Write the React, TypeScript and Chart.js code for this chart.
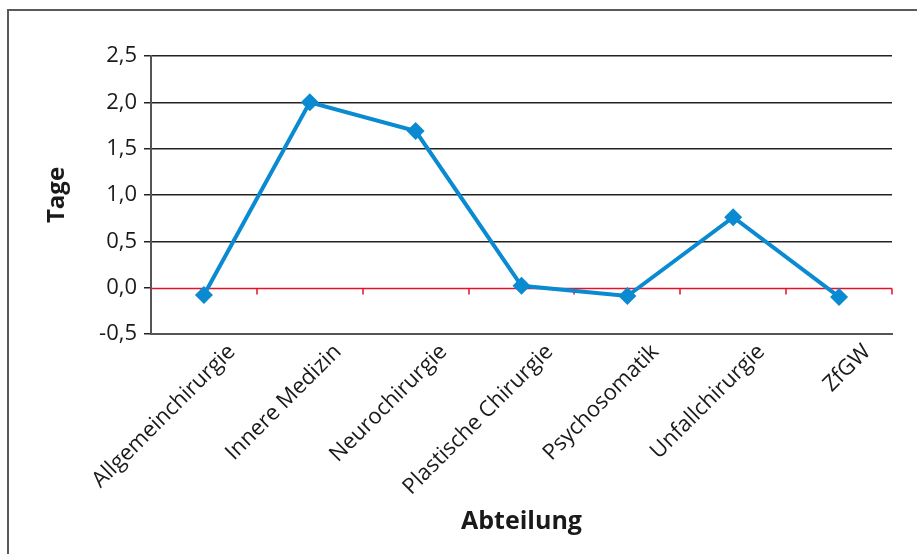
import React, { useEffect, useRef } from "react";
import { Chart, registerables } from "chart.js";

Chart.register(...registerables);

const categories = [
  "Allgemeinchirurgie",
  "Innere Medizin",
  "Neurochirurgie",
  "Plastische Chirurgie",
  "Psychosomatik",
  "Unfallchirurgie",
  "ZfGW",
];
const tageValues = [-0.08, 2.0, 1.69, 0.02, -0.09, 0.76, -0.1];
const yMin = -0.5;
const yMax = 2.5;
const yStep = 0.5;

const FONT = "'Open Sans', 'Noto Sans', sans-serif";

const zeroLinePlugin = {
  id: "zeroLine",
  beforeDatasetsDraw(chart: any) {
    const { ctx, chartArea, scales } = chart;
    const y = Math.round(scales.y.getPixelForValue(0)) + 0.5;
    const xs = scales.x;
    ctx.save();
    ctx.strokeStyle = "#e4112b";
    ctx.lineWidth = 1.5;
    ctx.beginPath();
    ctx.moveTo(chartArea.left, y);
    ctx.lineTo(chartArea.right, y);
    const n = categories.length;
    const w = (chartArea.right - chartArea.left) / n;
    for (let i = 1; i <= n; i++) {
      const x = Math.round(xs.getPixelForValue(i - 1) + w / 2);
      ctx.moveTo(x, y);
      ctx.lineTo(x, y + 6);
    }
    ctx.stroke();
    ctx.restore();
  },
};

export default function App() {
  const ref = useRef<HTMLCanvasElement | null>(null);
  useEffect(() => {
    if (!ref.current) return;
    const chart = new Chart(ref.current, {
      type: "line",
      data: {
        labels: categories,
        datasets: [
          {
            label: "Tage",
            data: tageValues,
            borderColor: "#0a8ad0",
            backgroundColor: "#0a8ad0",
            borderWidth: 4,
            pointStyle: "rectRot",
            pointRadius: 9,
            pointHoverRadius: 9,
            pointBorderWidth: 0,
            tension: 0,
          },
        ],
      },
      options: {
        responsive: false,
        animation: false,
        events: [],
        layout: { padding: { left: 39, top: 56, right: 25, bottom: 13 } },
        plugins: { legend: { display: false }, tooltip: { enabled: false } },
        scales: {
          x: {
            offset: true,
            grid: { display: true, drawOnChartArea: false, drawTicks: false },
            border: { display: true, color: "#555", width: 2 },
            ticks: {
              autoSkip: false,
              minRotation: 45,
              maxRotation: 45,
              padding: 5,
              labelOffset: 28,
              color: "#1a1a1a",
              font: { family: FONT, size: 22 },
            },
            title: {
              display: true,
              text: "Abteilung",
              color: "#1a1a1a",
              font: { family: FONT, size: 25, weight: "bold" },
            },
            afterFit(scale: any) {
              scale.height = 207;
            },
          },
          y: {
            min: yMin,
            max: yMax,
            ticks: {
              stepSize: yStep,
              padding: 7,
              color: "#1a1a1a",
              font: { family: FONT, size: 22 },
              callback: (v: any) => Number(v).toFixed(1).replace(".", ","),
            },
            grid: {
              color: (c: any) => (c.tick && c.tick.value === 0 ? "rgba(0,0,0,0)" : "#222"),
              tickColor: "#222",
              tickLength: 7,
              lineWidth: 1.5,
            },
            border: { display: true, color: "#555", width: 2 },
            title: {
              display: true,
              text: "Tage",
              color: "#1a1a1a",
              font: { family: FONT, size: 24, weight: "bold" },
            },
            afterFit(scale: any) {
              scale.width = 112;
            },
          },
        },
      },
      plugins: [zeroLinePlugin],
    } as any);
    return () => chart.destroy();
  }, []);

  return (
    <div style={{ position: "fixed", left: 0, top: 0, width: 917, height: 554, background: "#fff", overflow: "hidden" }}>
      <div
        style={{
          position: "absolute",
          left: 7,
          top: 9,
          width: 920,
          height: 560,
          borderLeft: "2px solid #5a5a5a",
          borderTop: "2px solid #5a5a5a",
        }}
      />
      <canvas ref={ref} width={917} height={554} style={{ position: "absolute", left: 0, top: 0 }} />
    </div>
  );
}
